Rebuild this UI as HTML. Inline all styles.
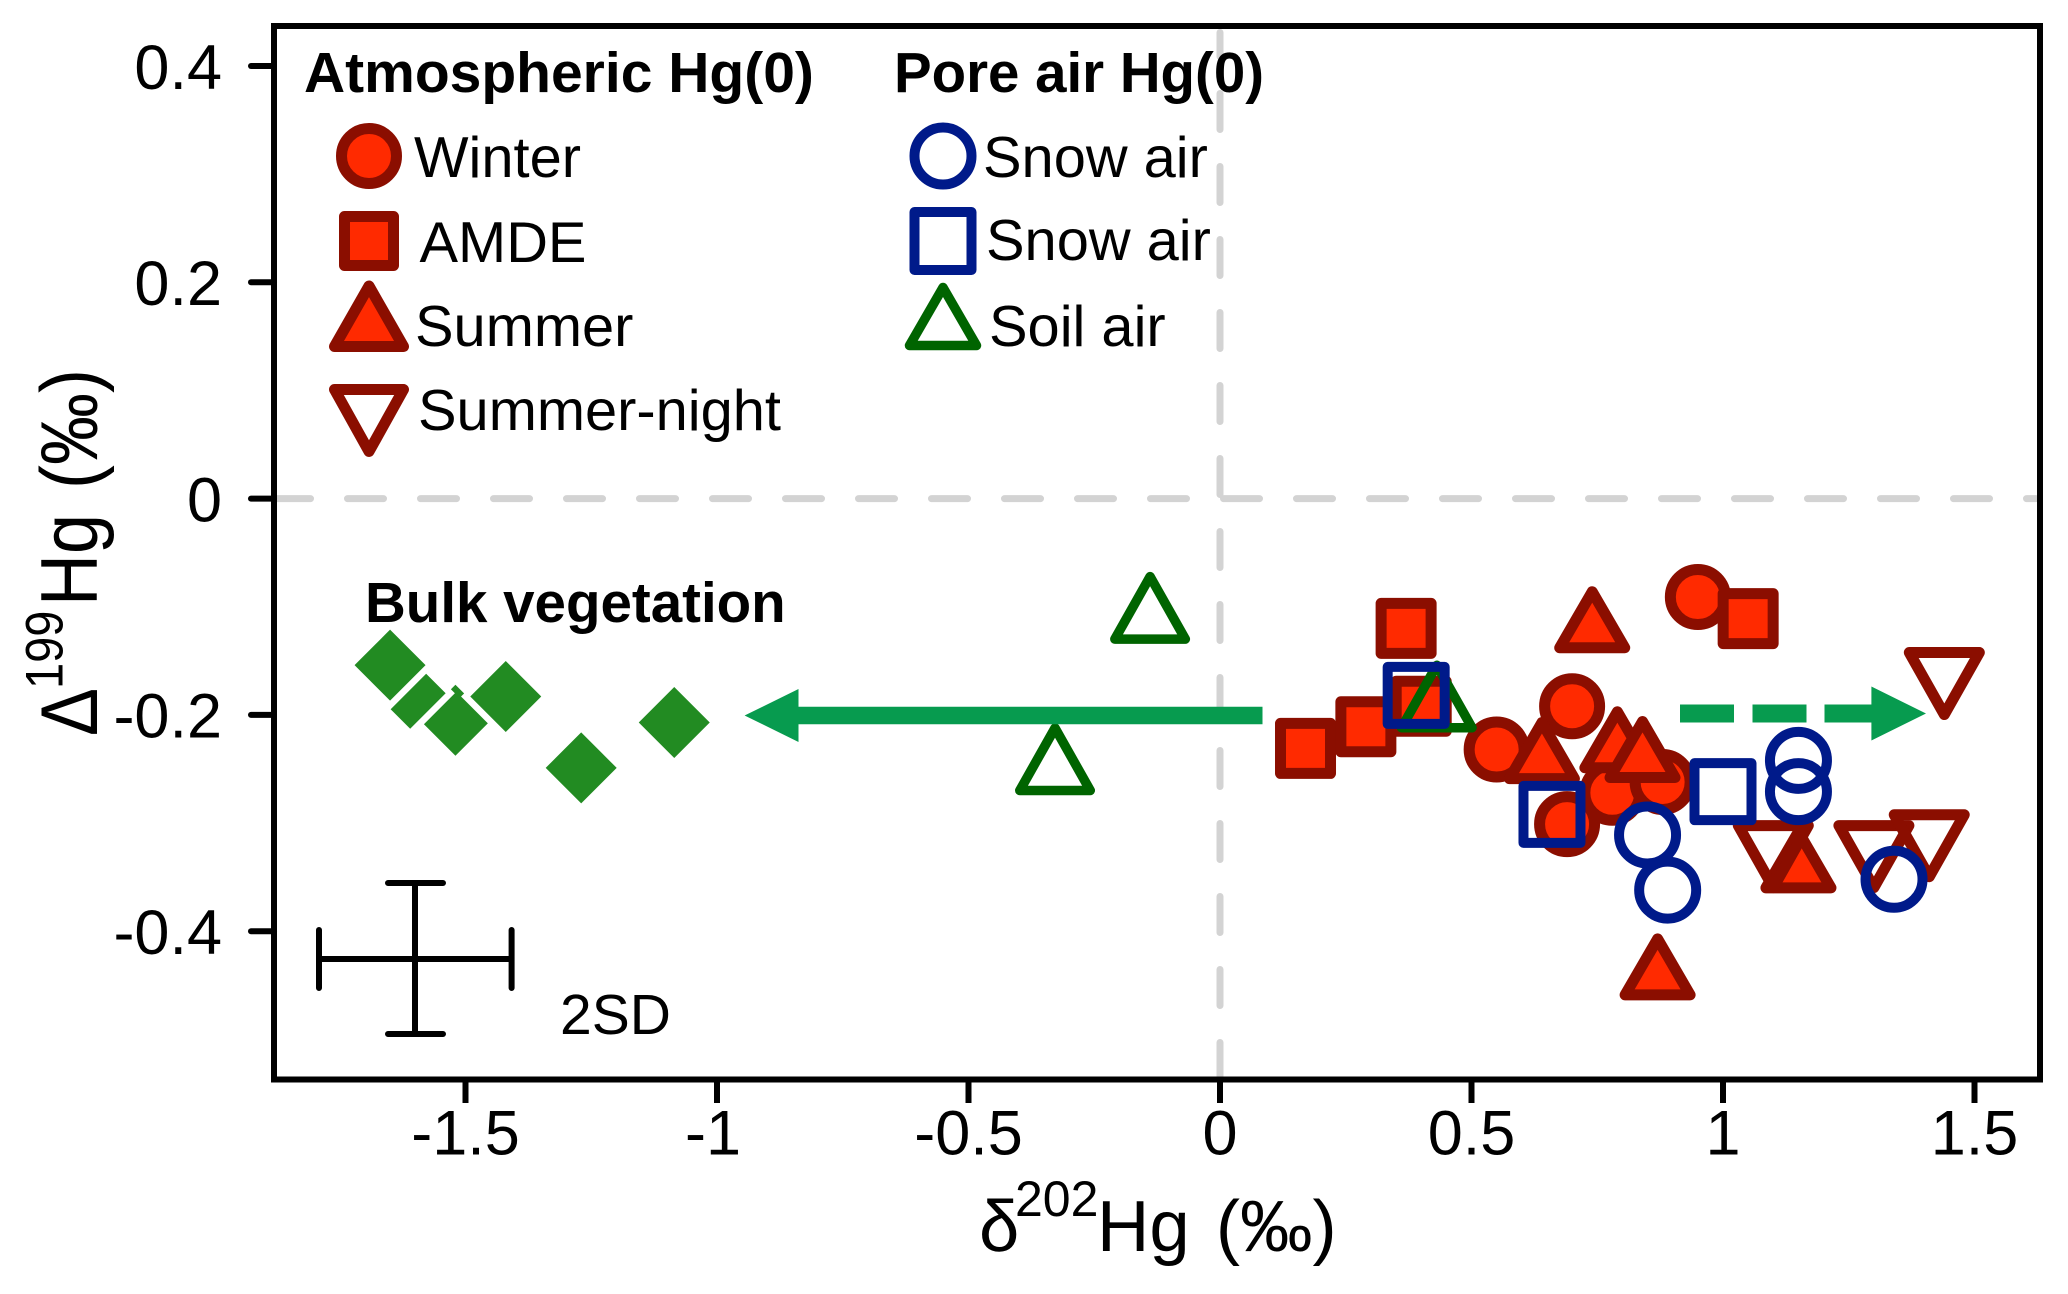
<!DOCTYPE html>
<html lang="en">
<head>
<meta charset="utf-8">
<title>δ202Hg vs Δ199Hg scatter plot</title>
<style>
html,body{margin:0;padding:0;background:#fff}
svg{display:block}
text{font-family:"Liberation Sans",Arial,sans-serif;fill:#000}
.tick{font-size:63px}
.head{font-size:57px;font-weight:bold}
.leg{font-size:57.8px}
</style>
</head>
<body>
<svg id="chart" xmlns="http://www.w3.org/2000/svg" width="2068" height="1294" viewBox="0 0 2068 1294">
  <rect x="0" y="0" width="2068" height="1294" fill="#fff"/>
  <path d="M274.5 498.6H2036" stroke="#d3d3d3" stroke-width="7" stroke-linecap="round" stroke-dasharray="36 37" fill="none"/>
  <path d="M1220 32.5V56.5M1220 93.5V1076" stroke="#d3d3d3" stroke-width="7" stroke-linecap="round" stroke-dasharray="36 37" fill="none"/>
  <g id="marks"></g>
  <polygon fill="#079b4f" points="1262.5,706.7 798.5,706.7 798.5,689 744.6,715.5 798.5,742 798.5,724.3 1262.5,724.3"/>
  <g fill="#079b4f">
    <rect x="1680" y="704.5" width="54" height="18"/>
    <rect x="1752.5" y="704.5" width="54" height="18"/>
    <polygon points="1824.5,704.5 1871.4,704.5 1871.4,686.5 1926,713.5 1871.4,740.5 1871.4,722.5 1824.5,722.5"/>
  </g>
  <g id="axes"></g>
  <rect x="274" y="26" width="1766" height="1053.5" fill="none" stroke="#000" stroke-width="6"/>

  <g>
    <text class="head" x="304" y="92">Atmospheric Hg(0)</text>
    <circle cx="369" cy="156" r="27.5" fill="#ff2a00" stroke="#8b0e00" stroke-width="11"/>
    <text class="leg" x="414" y="177">Winter</text>
    <rect x="344.5" y="216.5" width="49" height="49" fill="#ff2a00" stroke="#8b0e00" stroke-width="11" stroke-linejoin="round"/>
    <text class="leg" x="419.5" y="262">AMDE</text>
    <polygon points="369,286 403.5,346.5 334.5,346.5" fill="#ff2a00" stroke="#8b0e00" stroke-width="11" stroke-linejoin="round"/>
    <text class="leg" x="415" y="346">Summer</text>
    <polygon points="369,451.5 403.5,389.5 334.5,389.5" fill="#fff" stroke="#8b0e00" stroke-width="11" stroke-linejoin="round"/>
    <text class="leg" x="418" y="430">Summer-night</text>
  </g>
  <g>
    <text class="head" x="894" y="92" textLength="370" lengthAdjust="spacingAndGlyphs">Pore air Hg(0)</text>
    <circle cx="943" cy="156" r="28.5" fill="#fff" stroke="#001a8a" stroke-width="10"/>
    <text class="leg" x="983" y="177">Snow air</text>
    <rect x="914.5" y="212" width="57" height="58" fill="#fff" stroke="#001a8a" stroke-width="10" stroke-linejoin="round"/>
    <text class="leg" x="986" y="260">Snow air</text>
    <polygon points="943,287.5 976.5,345.5 909.5,345.5" fill="#fff" stroke="#006400" stroke-width="9.5" stroke-linejoin="round"/>
    <text class="leg" x="989" y="346">Soil air</text>
  </g>

  <text x="365" y="622" font-size="56.5" font-weight="bold">Bulk vegetation</text>

  <g stroke="#000" stroke-width="6" fill="none" stroke-linecap="round">
    <path d="M319 959H511.6M319 930V988M511.6 930V988"/>
    <path d="M415 883V1034M388 883H443M388 1034H443"/>
  </g>
  <text x="560" y="1034" font-size="57">2SD</text>

  <text font-size="72.5">
    <tspan x="979" y="1251">δ</tspan><tspan x="1015" y="1216" font-size="50">202</tspan><tspan x="1097" y="1251">Hg</tspan><tspan dx="6"> (‰)</tspan>
  </text>
  <g transform="translate(97,736) rotate(-90) scale(1,1.12)">
    <text font-size="72">
      <tspan x="0" y="0">Δ</tspan><tspan x="47" y="-31" font-size="47">199</tspan><tspan x="130" y="0">Hg</tspan><tspan dx="5"> (‰)</tspan>
    </text>
  </g>
</svg>
<script>
// Axis tick values
var xTicks = [-1.5, -1, -0.5, 0, 0.5, 1, 1.5];
var xTickLabels = ['-1.5', '-1', '-0.5', '0', '0.5', '1', '1.5'];
var yTicks = [0.4, 0.2, 0, -0.2, -0.4];
var yTickLabels = ['0.4', '0.2', '0', '-0.2', '-0.4'];

// Atmospheric Hg(0)
var winterX = [0.95, 0.55, 0.70, 0.69, 0.78, 0.88];
var winterY = [-0.091, -0.232, -0.192, -0.301, -0.272, -0.262];
var amdeX = [0.37, 0.17, 0.29, 0.40, 1.05];
var amdeY = [-0.120, -0.231, -0.211, -0.192, -0.111];
var summerX = [0.74, 0.64, 0.79, 0.84, 1.15, 0.87];
var summerY = [-0.112, -0.233, -0.223, -0.232, -0.334, -0.433];
var summerNightX = [1.44, 1.10, 1.30, 1.41];
var summerNightY = [-0.171, -0.331, -0.331, -0.321];

// Pore air Hg(0)
var soilAirX = [-0.139, -0.328, 0.431];
var soilAirY = [-0.101, -0.241, -0.183];
var snowCircleX = [1.15, 1.15, 0.85, 0.89, 1.34];
var snowCircleY = [-0.242, -0.271, -0.311, -0.362, -0.352];
var snowSquareX = [0.39, 0.66, 1.00];
var snowSquareY = [-0.182, -0.292, -0.271];

// Bulk vegetation
var vegX = [-1.52, -1.61, -1.65, -1.42, -1.27, -1.085];
var vegY = [-0.205, -0.180, -0.154, -0.183, -0.249, -0.207];

var SVG_NS = 'http://www.w3.org/2000/svg';

function sx(v) { return 1220 + 503 * v; }
function sy(v) { return 498.6 - 1081.5 * v; }

function makeShape(shape, x, y, w, h) {
  var el;
  if (shape === 'circle') {
    el = document.createElementNS(SVG_NS, 'circle');
    el.setAttribute('cx', x);
    el.setAttribute('cy', y);
    el.setAttribute('r', w / 2);
  } else if (shape === 'square') {
    el = document.createElementNS(SVG_NS, 'rect');
    el.setAttribute('x', x - w / 2);
    el.setAttribute('y', y - h / 2);
    el.setAttribute('width', w);
    el.setAttribute('height', h);
  } else {
    el = document.createElementNS(SVG_NS, 'polygon');
    var pts;
    if (shape === 'up') {
      pts = [[x, y - h / 2], [x + w / 2, y + h / 2], [x - w / 2, y + h / 2]];
    } else if (shape === 'down') {
      pts = [[x, y + h / 2], [x + w / 2, y - h / 2], [x - w / 2, y - h / 2]];
    } else {
      pts = [[x, y - h / 2], [x + w / 2, y], [x, y + h / 2], [x - w / 2, y]];
    }
    el.setAttribute('points', pts.map(function (p) { return p.join(','); }).join(' '));
  }
  return el;
}

function plotSeries(seriesName, xs, ys, shape, w, h, fill, stroke, sw) {
  var layer = document.getElementById('marks');
  for (var i = 0; i < xs.length; i++) {
    var el = makeShape(shape, sx(xs[i]), sy(ys[i]), w, h);
    el.setAttribute('fill', fill);
    el.setAttribute('stroke', stroke);
    el.setAttribute('stroke-width', sw);
    el.setAttribute('stroke-linejoin', 'round');
    
    
    layer.appendChild(el);
  }
}

function plotVegetation() {
  var layer = document.getElementById('marks');
  for (var i = 0; i < vegX.length; i++) {
    var halo = makeShape('diamond', sx(vegX[i]), sy(vegY[i]), 71, 71);
    halo.setAttribute('fill', '#228b22');
    halo.setAttribute('stroke', '#fff');
    halo.setAttribute('stroke-width', 13);
    halo.setAttribute('stroke-linejoin', 'miter');
    halo.setAttribute('paint-order', 'stroke');
    
    
    layer.appendChild(halo);
  }
}

function drawAxes() {
  var axes = document.getElementById('axes');
  xTicks.forEach(function (v, i) {
    var line = document.createElementNS(SVG_NS, 'line');
    line.setAttribute('x1', sx(v));
    line.setAttribute('x2', sx(v));
    line.setAttribute('y1', 1080);
    line.setAttribute('y2', 1103);
    line.setAttribute('stroke', '#000');
    line.setAttribute('stroke-width', 6);
    
    
    axes.appendChild(line);
    var t = document.createElementNS(SVG_NS, 'text');
    t.setAttribute('x', sx(v) - (v === -1 ? 4 : 0));
    t.setAttribute('y', 1154.5);
    t.setAttribute('text-anchor', 'middle');
    t.setAttribute('class', 'tick');
    
    
    t.textContent = xTickLabels[i];
    axes.appendChild(t);
  });
  yTicks.forEach(function (v, i) {
    var line = document.createElementNS(SVG_NS, 'line');
    line.setAttribute('x1', 251);
    line.setAttribute('x2', 274);
    line.setAttribute('y1', sy(v));
    line.setAttribute('y2', sy(v));
    line.setAttribute('stroke', '#000');
    line.setAttribute('stroke-width', 6);
    line.setAttribute('stroke-linecap', 'round');
    
    
    axes.appendChild(line);
    var t = document.createElementNS(SVG_NS, 'text');
    t.setAttribute('x', 222);
    t.setAttribute('y', sy(v) + 22.8);
    t.setAttribute('text-anchor', 'end');
    t.setAttribute('class', 'tick');
    
    
    t.textContent = yTickLabels[i];
    axes.appendChild(t);
  });
}

plotVegetation();
plotSeries('winter', winterX, winterY, 'circle', 55, 55, '#ff2a00', '#8b0e00', 11);
plotSeries('amde', amdeX, amdeY, 'square', 50, 50, '#ff2a00', '#8b0e00', 11);
plotSeries('summer', summerX, summerY, 'up', 65, 56, '#ff2a00', '#8b0e00', 11);
plotSeries('summer-night', summerNightX, summerNightY, 'down', 70, 62, 'none', '#8b0e00', 11);
plotSeries('soil-air', soilAirX, soilAirY, 'up', 70.5, 62.5, 'none', '#006400', 9.5);
plotSeries('snow-air-circle', snowCircleX, snowCircleY, 'circle', 57, 57, 'none', '#001a8a', 10);
plotSeries('snow-air-square', snowSquareX, snowSquareY, 'square', 57, 57, 'none', '#001a8a', 10);
drawAxes();
</script>
</body>
</html>
